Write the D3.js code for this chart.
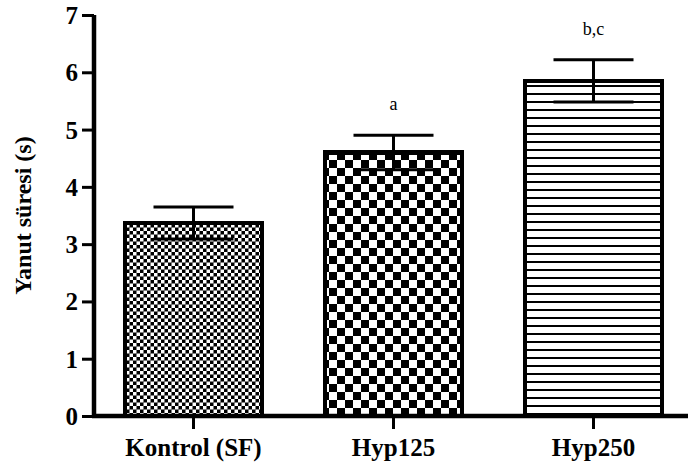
<!DOCTYPE html>
<html>
<head>
<meta charset="utf-8">
<script src="https://cdn.jsdelivr.net/npm/d3@7"></script>
<style>
  html, body { margin: 0; padding: 0; background: #fff; }
  svg { display: block; }
  text { font-family: "Liberation Serif", "Times New Roman", serif; }
</style>
</head>
<body>
<svg id="chart" width="688" height="467"></svg>
<script>
// ---- data ----
const categories = ["Kontrol (SF)", "Hyp125", "Hyp250"];
const means = [3.37, 4.60, 5.85];
const errors = [0.28, 0.30, 0.37];
const annotations = ["", "a", "b,c"];
const patterns = ["fineCheck", "coarseCheck", "hLines"];
const yTicks = [0, 1, 2, 3, 4, 5, 6, 7];
const yLabel = "Yanut süresi (s)";

// ---- layout ----
const W = 688, H = 467;
const svg = d3.select("#chart");
const x = d3.scaleBand().domain(categories).range([94, 693]).paddingInner(0.315).paddingOuter(0.155);
const y = d3.scaleLinear().domain([0, 7]).range([416, 15]);

// ---- patterns ----
const defs = svg.append("defs");
let p = defs.append("pattern").attr("id", "fineCheck").attr("patternUnits", "userSpaceOnUse")
  .attr("width", 7).attr("height", 7);
p.append("rect").attr("width", 7).attr("height", 7).attr("fill", "#000");
p.append("rect").attr("x", 0).attr("y", 0).attr("width", 3.5).attr("height", 3.5).attr("fill", "#fff");
p.append("rect").attr("x", 3.5).attr("y", 3.5).attr("width", 3.5).attr("height", 3.5).attr("fill", "#fff");
p = defs.append("pattern").attr("id", "coarseCheck").attr("patternUnits", "userSpaceOnUse")
  .attr("width", 16).attr("height", 16).attr("x", x(categories[1]) + 4).attr("y", 0);
p.append("rect").attr("width", 16).attr("height", 16).attr("fill", "#fff");
p.append("rect").attr("x", 0).attr("y", 0).attr("width", 8).attr("height", 8).attr("fill", "#000");
p.append("rect").attr("x", 8).attr("y", 8).attr("width", 8).attr("height", 8).attr("fill", "#000");
p = defs.append("pattern").attr("id", "hLines").attr("patternUnits", "userSpaceOnUse")
  .attr("width", 8).attr("height", 8);
p.append("rect").attr("width", 8).attr("height", 8).attr("fill", "#fff");
p.append("rect").attr("x", 0).attr("y", 5).attr("width", 8).attr("height", 2).attr("fill", "#000");

// ---- bars ----
const g = svg.append("g");
g.selectAll("rect.bar").data(categories).join("rect")
  .attr("class", "bar")
  .attr("x", d => x(d))
  .attr("y", (d, i) => y(means[i]))
  .attr("width", x.bandwidth())
  .attr("height", (d, i) => y(0) - y(means[i]))
  .attr("fill", (d, i) => `url(#${patterns[i]})`)
  .attr("stroke", "#000").attr("stroke-width", 4.5)
  .attr("shape-rendering", "crispEdges");

// ---- error bars ----
const capHalf = 40;
categories.forEach((c, i) => {
  const cx = x(c) + x.bandwidth() / 2;
  const top = y(means[i] + errors[i]), bot = y(means[i] - errors[i]);
  g.append("line").attr("x1", cx).attr("x2", cx).attr("y1", top).attr("y2", bot)
    .attr("stroke", "#000").attr("stroke-width", 3);
  [top, bot].forEach(yy => g.append("line")
    .attr("x1", cx - capHalf).attr("x2", cx + capHalf).attr("y1", yy).attr("y2", yy)
    .attr("stroke", "#000").attr("stroke-width", 3));
  if (annotations[i]) {
    g.append("text").attr("x", cx).attr("y", top - 25)
      .attr("text-anchor", "middle").attr("font-size", 18).attr("fill", "#000")
      .text(annotations[i]);
  }
});

// ---- axes ----
const yAxis = svg.append("g").attr("transform", "translate(94,0)")
  .call(d3.axisLeft(y).tickValues(yTicks).tickSize(12).tickPadding(4).tickFormat(d3.format("d")));
const xAxis = svg.append("g").attr("transform", `translate(0,${y(0)})`)
  .call(d3.axisBottom(x).tickSize(13).tickPadding(9));
[yAxis, xAxis].forEach(a => {
  a.select(".domain").attr("stroke", "#000").attr("stroke-width", 4.5);
  a.selectAll(".tick line").attr("stroke", "#000").attr("stroke-width", 3);
  a.selectAll("text").attr("fill", "#000").attr("font-weight", "bold")
    .attr("font-family", "'Liberation Serif', 'Times New Roman', serif");
});
yAxis.select(".domain").attr("d", `M0,${y(7)}V${y(0) + 2}`);
xAxis.select(".domain").attr("d", `M${94 - 2},0H${W}`);
yAxis.selectAll("text").attr("font-size", 25).attr("dy", "0.34em");
xAxis.selectAll("text").attr("font-size", 25).attr("textLength", null);

// ---- y label ----
svg.append("text")
  .attr("transform", `translate(31,${(y(0) + y(7)) / 2}) rotate(-90)`)
  .attr("text-anchor", "middle").attr("font-size", 24).attr("font-weight", "bold")
  .attr("fill", "#000").text(yLabel);
</script>
</body>
</html>
